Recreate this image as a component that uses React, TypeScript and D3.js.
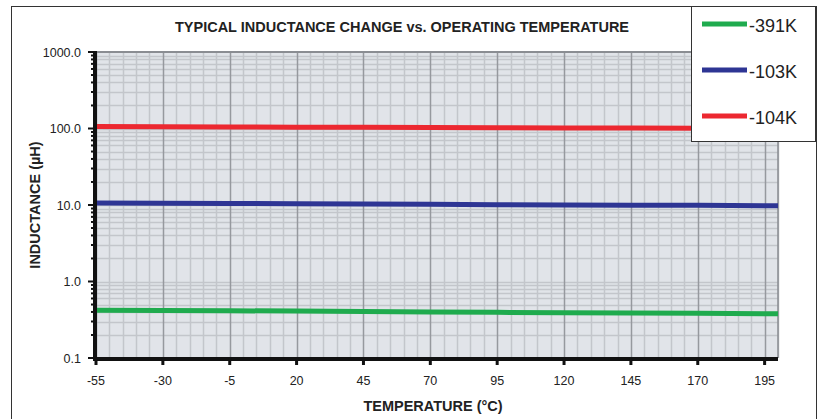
import React, { useEffect, useRef } from 'react';
import * as d3 from 'd3';

// temperatures sampled along each curve (°C)
const temps = [-55, -30, -5, 20, 45, 70, 95, 120, 145, 170, 195, 200];

// inductance readings (µH) for each part
const series104K = [106, 105.5, 105, 104.2, 103.8, 103.2, 102.5, 101.8, 101.2, 100.8, 100.3, 100.2];
const series103K = [10.6, 10.55, 10.5, 10.4, 10.3, 10.2, 10.1, 10.0, 9.95, 9.9, 9.8, 9.8];
const series391K = [0.42, 0.418, 0.415, 0.41, 0.405, 0.4, 0.395, 0.39, 0.388, 0.384, 0.38, 0.378];

const xTicks = [-55, -30, -5, 20, 45, 70, 95, 120, 145, 170, 195];
const yTicks = [0.1, 1, 10, 100, 1000];
const yTickLabels = ['0.1', '1.0', '10.0', '100.0', '1000.0'];

const legendItems = [
  { label: '-391K', color: '#1fab4e' },
  { label: '-103K', color: '#2e3594' },
  { label: '-104K', color: '#ec2830' },
];

const App = () => {
  const svgRef = useRef(null);

  useEffect(() => {
    const svg = d3.select(svgRef.current);
    svg.selectAll('*').remove();

    const left = 96, right = 778, top = 52, bottom = 358;
    const font = 'Liberation Sans, Arial, sans-serif';

    const x = d3.scaleLinear().domain([-55, 200]).range([left, right]);
    const y = d3.scaleLog().domain([0.1, 1000]).range([bottom, top]);

    // outer frame
    svg.append('rect')
      .attr('x', 11.5).attr('y', 6.5).attr('width', 805).attr('height', 430)
      .attr('fill', 'white').attr('stroke', '#333').attr('stroke-width', 1);

    // plot background
    svg.append('rect')
      .attr('x', left).attr('y', top).attr('width', right - left).attr('height', bottom - top)
      .attr('fill', '#e1e4e9');

    const grid = svg.append('g');

    // horizontal log grid lines
    const minorY = [];
    for (let e = -1; e < 3; e++) {
      for (let k = 1; k <= 9; k++) minorY.push(k * Math.pow(10, e));
    }
    grid.selectAll('.hy').data(minorY).enter().append('line')
      .attr('x1', left).attr('x2', right)
      .attr('y1', (d) => Math.round(y(d)) + 0.5).attr('y2', (d) => Math.round(y(d)) + 0.5)
      .attr('stroke', '#c3c6cb').attr('stroke-width', 1.5);

    // vertical grid lines every 5 degrees, darker each 25
    const minorX = d3.range(-55, 201, 5);
    grid.selectAll('.vx').data(minorX).enter().append('line')
      .attr('y1', top).attr('y2', bottom)
      .attr('x1', (d) => Math.round(x(d)) + 0.5).attr('x2', (d) => Math.round(x(d)) + 0.5)
      .attr('stroke', (d) => ((d + 55) % 25 === 0 ? '#96999e' : '#c3c6cb'))
      .attr('stroke-width', 1.5);

    // top and right plot borders
    svg.append('line').attr('x1', left).attr('x2', right).attr('y1', top).attr('y2', top)
      .attr('stroke', '#8a8d92').attr('stroke-width', 2);
    svg.append('line').attr('x1', right).attr('x2', right).attr('y1', top).attr('y2', bottom)
      .attr('stroke', '#8a8d92').attr('stroke-width', 1.5);

    // data lines
    const line = d3.line().x((d) => x(d[0])).y((d) => y(d[1]));
    const allSeries = [
      { values: series391K, color: legendItems[0].color },
      { values: series103K, color: legendItems[1].color },
      { values: series104K, color: legendItems[2].color },
    ];
    allSeries.forEach((s) => {
      svg.append('path')
        .datum(temps.map((t, i) => [t, s.values[i]]))
        .attr('d', line)
        .attr('fill', 'none')
        .attr('stroke', s.color)
        .attr('stroke-width', 5);
    });

    // left axis with minor ticks
    const yAxis = svg.append('g');
    yAxis.selectAll('.mt').data(minorY.concat([1000])).enter().append('line')
      .attr('x1', (d) => (yTicks.includes(d) ? left - 8 : left - 5)).attr('x2', left)
      .attr('y1', (d) => y(d)).attr('y2', (d) => y(d))
      .attr('stroke', '#111').attr('stroke-width', 2);
    yAxis.append('line').attr('x1', left - 1).attr('x2', left - 1).attr('y1', top - 1).attr('y2', bottom + 1)
      .attr('stroke', '#111').attr('stroke-width', 4);
    yAxis.selectAll('.yl').data(yTicks).enter().append('text')
      .attr('x', 81).attr('y', (d) => y(d) + 4.5)
      .attr('text-anchor', 'end')
      .attr('font-family', font).attr('font-size', 12.5).attr('fill', '#222')
      .text((d, i) => yTickLabels[i]);

    // bottom axis
    const xAxis = svg.append('g');
    xAxis.append('line').attr('x1', left - 3).attr('x2', right).attr('y1', bottom + 1).attr('y2', bottom + 1)
      .attr('stroke', '#111').attr('stroke-width', 4);
    xAxis.selectAll('.xt').data(xTicks).enter().append('line')
      .attr('x1', (d) => x(d)).attr('x2', (d) => x(d))
      .attr('y1', bottom).attr('y2', bottom + 7)
      .attr('stroke', '#111').attr('stroke-width', 3);
    xAxis.selectAll('.xl').data(xTicks).enter().append('text')
      .attr('x', (d) => x(d)).attr('y', 385)
      .attr('text-anchor', 'middle')
      .attr('font-family', font).attr('font-size', 12.5).attr('fill', '#222')
      .text((d) => d);

    // titles
    svg.append('text')
      .attr('x', 402).attr('y', 32).attr('text-anchor', 'middle')
      .attr('font-family', font).attr('font-size', 14.5).attr('font-weight', 'bold').attr('fill', '#222')
      .text('TYPICAL INDUCTANCE CHANGE vs. OPERATING TEMPERATURE');
    svg.append('text')
      .attr('x', 433).attr('y', 411).attr('text-anchor', 'middle')
      .attr('font-family', font).attr('font-size', 14.5).attr('font-weight', 'bold').attr('fill', '#222')
      .text('TEMPERATURE (°C)');
    svg.append('text')
      .attr('transform', `translate(40,${(top + bottom) / 2}) rotate(-90)`)
      .attr('text-anchor', 'middle')
      .attr('font-family', font).attr('font-size', 14.5).attr('font-weight', 'bold').attr('fill', '#222')
      .text('INDUCTANCE (µH)');

    // legend
    const lg = svg.append('g');
    lg.append('rect')
      .attr('x', 691.5).attr('y', 6.5).attr('width', 124).attr('height', 135)
      .attr('fill', 'white').attr('stroke', '#333').attr('stroke-width', 1);
    legendItems.forEach((item, i) => {
      const ly = 24 + i * 46;
      lg.append('line').attr('x1', 702).attr('x2', 747).attr('y1', ly).attr('y2', ly)
        .attr('stroke', item.color).attr('stroke-width', 5);
      lg.append('text').attr('x', 749).attr('y', ly + 8)
        .attr('font-family', font).attr('font-size', 18).attr('fill', '#222')
        .text(item.label);
    });
  }, []);

  return <svg ref={svgRef} width={820} height={419} style={{ position: 'absolute', left: 0, top: 0 }}></svg>;
};

export default App;
